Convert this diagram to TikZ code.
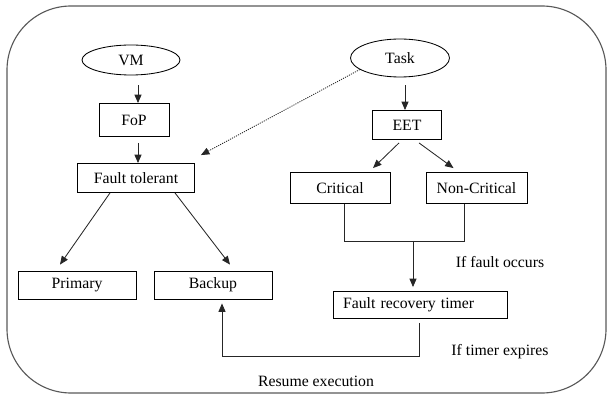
\documentclass[tikz,border=0pt]{standalone}
\usepackage{fontspec}
\setmainfont{Liberation Serif}
\usetikzlibrary{shapes.geometric,arrows.meta,calc}

\newcommand{\pxu}{0.025cm}

\begin{document}
\begin{tikzpicture}[x=0.025cm, y=-0.025cm,
		every node/.style={font=\fontsize{11.2}{13}\selectfont},
		box/.style={draw, rectangle, inner sep=0pt, line width=0.6pt},
		oval/.style={draw, ellipse, inner sep=0pt, line width=0.6pt},
		arr/.style={-{Triangle[length=6pt,width=5pt]}, line width=0.6pt, black!85},
		link/.style={line width=0.6pt, black!85}]
					\useasboundingbox (0,0) rectangle (610,399);
					\draw [black!65, line width=0.8pt, rounded corners=1.6cm] (7,6) rectangle (606,393);

					\node [oval, minimum width=98*\pxu, minimum height=30*\pxu] (VM) at (131,60) {VM};
					\node [oval, minimum width=99*\pxu, minimum height=38*\pxu] (Task) at (400,58) {Task};

					\node [box, minimum width=70*\pxu, minimum height=33*\pxu] (FoP) at (134,120) {FoP};
					\node [box, minimum width=117*\pxu, minimum height=29*\pxu] (FT) at (136,178) {Fault tolerant};
					\node [box, minimum width=118*\pxu, minimum height=28*\pxu] (Primary) at (77,285) {Primary};
					\node [box, minimum width=118*\pxu, minimum height=28*\pxu] (Backup) at (213,285) {Backup};

					\node [box, minimum width=69*\pxu, minimum height=29*\pxu] (EET) at (407,125) {EET};
					\node [box, minimum width=100*\pxu, minimum height=31*\pxu] (Critical) at (340,188) {Critical};
					\node [box, minimum width=101*\pxu, minimum height=31*\pxu] (NonCritical) at (476.5,188) {Non-Critical};
					\node [box, minimum height=27*\pxu, inner xsep=10*\pxu, text width=154*\pxu, align=left] (FRT) at (420,305) {Fault recovery timer};

					\node (fault) at (500,262) {If fault occurs};
					\node (expires) at (500,352) {If timer expires};
					\node (resume) at (316,381) {Resume execution};

					\draw [arr] ($(VM.south)+(7,10)$) -- ($(FoP.north)+(4,0)$);
					\draw [arr] ($(FoP.south)+(4,6)$) -- ($(FT.north)+(2,0)$);
					\draw [arr] ($(FT.south)+(-26,0)$) -- ($(Primary.north)+(-17,-6)$);
					\draw [arr] ($(FT.south)+(39,0)$) -- ($(Backup.north)+(17,-6)$);

					\draw [arr, dash pattern=on 0.8pt off 0.8pt] (Task.196) -- ($(FT.north east)+(6,-8)$);
					\draw [arr] ($(Task.south)+(5,8)$) -- ($(EET.north)+(-2,0)$);
					\draw [arr] ($(EET.south)+(-8,3)$) -- ($(Critical.north)+(33,-4)$);
					\draw [arr] ($(EET.south)+(12,3)$) -- ($(NonCritical.north)+(-23,-4)$);

					\coordinate (join) at ($(Critical.south)+(73,37)$);
					\draw [link] ($(Critical.south)+(4,0)$) -- ++(0,37) -| ($(NonCritical.south)+(-12,0)$);
					\draw [arr] (join) -- ($(FRT.north)+(-7,-4)$);
					\draw [arr] ($(FRT.south)+(-1,4)$) |- ($(Backup.south)+(9,57)$) -- ($(Backup.south)+(9,4)$);
				\end{tikzpicture}
\end{document}
